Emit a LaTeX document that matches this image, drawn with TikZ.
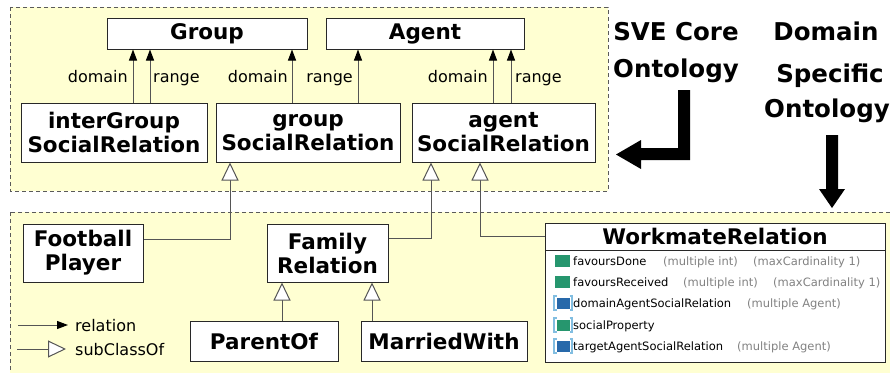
\documentclass[tikz,border=0pt]{standalone}
\usepackage{fontspec}
\setmainfont{DejaVu Sans}
\usetikzlibrary{arrows.meta}

\definecolor{zonefill}{RGB}{255,255,210}
\definecolor{zoneline}{RGB}{90,90,90}
\definecolor{boxline}{RGB}{40,40,40}
\definecolor{conn}{RGB}{85,85,85}
\definecolor{attrgreen}{RGB}{38,150,110}
\definecolor{attrblue}{RGB}{40,105,170}
\definecolor{bracketblue}{RGB}{130,190,225}
\definecolor{notegray}{RGB}{130,130,130}

% property icon: light brackets around a coloured square
% #1 = vertical centre, #2 = square colour
\newcommand{\propicon}[2]{%
  \draw[bracketblue, line width=1.2pt] (556.5,#1-7) -- (554,#1-7) -- (554,#1+7) -- (556.5,#1+7);
  \draw[bracketblue, line width=1.2pt] (569.5,#1-7) -- (572,#1-7) -- (572,#1+7) -- (569.5,#1+7);
  \fill[#2] (556.5,#1-5.5) rectangle (569.5,#1+5.5);
}

\begin{document}
\begin{tikzpicture}[x=1pt,y=-1pt,
  zone/.style={draw=zoneline, line width=0.8pt, dash pattern=on 4pt off 3pt, fill=zonefill},
  cls/.style={draw=boxline, line width=1pt, fill=white, inner sep=0pt, align=center,
              font=\bfseries\fontsize{21.5}{24}\selectfont},
  lbl/.style={inner sep=0pt, font=\fontsize{16}{18}\selectfont},
  sidetitle/.style={inner sep=0pt, anchor=base, font=\bfseries\fontsize{24.5}{30}\selectfont},
  rel/.style={draw=conn, line width=1pt, -{Triangle[width=8pt,length=11pt,color=black]}},
  sub/.style={draw=conn, line width=1pt, -{Triangle[width=17pt,length=18pt,fill=white]}},
  attr/.style={inner sep=0pt, anchor=base west, font=\fontsize{11.5}{13}\selectfont},
  attrnote/.style={attr, text=notegray},
]
\useasboundingbox (0,0) rectangle (890,372);
\clip (0,0) rectangle (890,372);

% the two ontology zones
\path[zone] (10,7) rectangle (608,191);
\path[zone] (10,212) rectangle (900,392);

% core ontology classes
\node[cls, minimum width=200pt, minimum height=31pt] (group) at (207,33.5) {Group};
\node[cls, minimum width=198pt, minimum height=31pt] (agent) at (425,33.5) {Agent};
\node[cls, minimum width=186pt, minimum height=59pt] (igsr) at (114,132.5) {interGroup\\SocialRelation};
\node[cls, minimum width=184pt, minimum height=59pt] (gsr) at (308,132.5) {group\\SocialRelation};
\node[cls, minimum width=183pt, minimum height=59pt] (asr) at (503.5,132.5) {agent\\SocialRelation};

% domain specific classes
\node[cls, minimum width=120pt, minimum height=58pt] (football) at (83,253) {Football\\Player};
\node[cls, minimum width=121pt, minimum height=58pt] (family) at (327.5,253) {Family\\Relation};
\node[cls, minimum width=148pt, minimum height=40pt] (parent) at (264,341) {ParentOf};
\node[cls, minimum width=166pt, minimum height=40pt] (married) at (444,341) {MarriedWith};
\node[draw=boxline, line width=1pt, fill=white, minimum width=340pt, minimum height=113pt, inner sep=0pt] (wbody) at (715,306) {};
\node[cls, minimum width=340pt, minimum height=27pt] (wtitle) at (715,236.5) {WorkmateRelation};

% domain / range relations
\coordinate (xa) at (133,0);
\coordinate (xb) at (150,0);
\coordinate (xc) at (292,0);
\coordinate (xd) at (358,0);
\coordinate (xe) at (493,0);
\coordinate (xf) at (511,0);
\draw[rel] (xa |- igsr.north) -- (xa |- group.south);
\draw[rel] (xb |- igsr.north) -- (xb |- group.south);
\draw[rel] (xc |- gsr.north) -- (xc |- group.south);
\draw[rel] (xd |- gsr.north) -- (xd |- agent.south);
\draw[rel] (xe |- asr.north) -- (xe |- agent.south);
\draw[rel] (xf |- asr.north) -- (xf |- agent.south);

\node[lbl, anchor=base east] (ld1) at (128,82) {domain};
\node[lbl, anchor=base west] (lr1) at (153,82) {range};
\node[lbl, anchor=base east] (ld2) at (288,82) {domain};
\node[lbl, anchor=base east] (lr2) at (353,82) {range};
\node[lbl, anchor=base east] (ld3) at (488,82) {domain};
\node[lbl, anchor=base west] (lr3) at (515,82) {range};

% subclass links
\coordinate (xg) at (230,0);
\coordinate (xh) at (431,0);
\coordinate (xi) at (480,0);
\coordinate (xj) at (282,0);
\coordinate (xk) at (372,0);
\draw[sub] ([yshift=14pt]football.east) -| (xg |- gsr.south);
\draw[sub] ([yshift=15pt]family.east) -| (xh |- asr.south);
\draw[sub] (wtitle.west) -| (xi |- asr.south);
\draw[sub] (xj |- parent.north) -- (xj |- family.south);
\draw[sub] (xk |- married.north) -- (xk |- family.south);

% legend
\coordinate (lg1a) at (18,325);
\coordinate (lg1b) at (68,325);
\coordinate (lg2a) at (17,349);
\coordinate (lg2b) at (66,349);
\draw[rel] (lg1a) -- (lg1b);
\draw[sub] (lg2a) -- (lg2b);
\node[lbl, anchor=base west] (legrel) at (75,331) {relation};
\node[lbl, anchor=base west] (legsub) at (75,355) {subClassOf};

% WorkmateRelation properties
\fill[attrgreen] (555,255) rectangle (570,267);
\fill[attrgreen] (555,276) rectangle (570,288);
\propicon{303}{attrblue}
\propicon{325}{attrgreen}
\propicon{346}{attrblue}

\node[attr] (p1) at (573,265) {favoursDone};
\node[attrnote] (p1m) at (663,265) {(multiple int)};
\node[attrnote] (p1c) at (753,265) {(maxCardinality 1)};
\node[attr] (p2) at (573,286) {favoursReceived};
\node[attrnote] (p2m) at (683,286) {(multiple int)};
\node[attrnote] (p2c) at (773,286) {(maxCardinality 1)};
\node[attr] (p3) at (573,307) {domainAgentSocialRelation};
\node[attrnote] (p3m) at (747,307) {(multiple Agent)};
\node[attr] (p4) at (573,329) {socialProperty};
\node[attr] (p5) at (573,350) {targetAgentSocialRelation};
\node[attrnote] (p5m) at (737,350) {(multiple Agent)};

% side titles
\node[sidetitle] (sve1) at (676,40) {SVE Core};
\node[sidetitle] (sve2) at (676,77) {Ontology};
\node[sidetitle] (dom1) at (826,40) {Domain};
\node[sidetitle] (dom2) at (830,82) {Specific};
\node[sidetitle] (dom3) at (827,117) {Ontology};

% big block arrows
\fill[black] (678,90) -- (690,90) -- (690,160) -- (641,160) -- (641,169) -- (616,154.5)
  -- (641,140) -- (641,148) -- (678,148) -- cycle;
\fill[black] (826,135) -- (838,135) -- (838,189) -- (845,189) -- (832,208) -- (819,189)
  -- (826,189) -- cycle;
\end{tikzpicture}
\end{document}
